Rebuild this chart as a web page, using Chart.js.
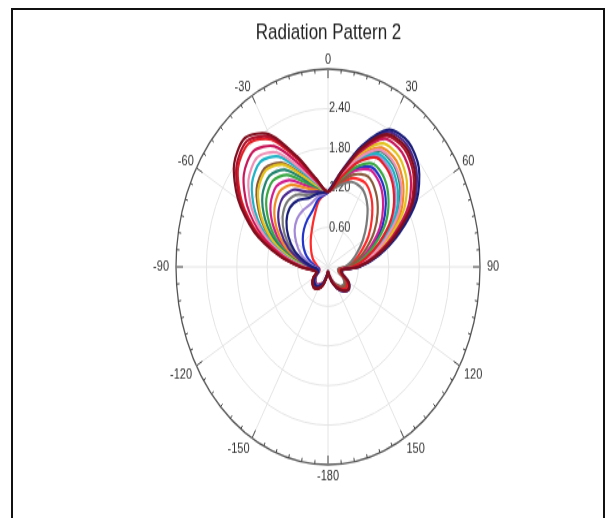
<!DOCTYPE html>
<html>
<head>
<meta charset="utf-8">
<title>Radiation Pattern 2</title>
<script src="https://cdn.jsdelivr.net/npm/chart.js@4.4.0/dist/chart.umd.min.js"></script>
<style>
  html, body { margin: 0; padding: 0; background: #fff; }
  body { width: 616px; height: 518px; position: relative; overflow: hidden; }
  #frame { position: absolute; left: 11px; top: 8px; width: 594px; height: 530px; border: 2px solid #111; border-bottom: none; box-sizing: border-box; }
  #polar { position: absolute; left: 0; top: 0; }
</style>
</head>
<body>
<div id="frame"></div>
<canvas id="polar" width="616" height="398" style="width:616px;height:518px"></canvas>
<script>
// angles (deg, clockwise from top) of each sample
const angleDeg = [0, 10, 20, 30, 40, 50, 60, 70, 80, 90, 100, 110, 120, 130, 140, 150, 160, 170,
                  180, 190, 200, 210, 220, 230, 240, 250, 260, 270, 280, 290, 300, 310, 320, 330, 340, 350];
const angleTicks = [0, 30, 60, 90, 120, 150, 180, 210, 240, 270, 300, 330];
const angleTickText = ['0', '30', '60', '90', '120', '150', '-180', '-150', '-120', '-90', '-60', '-30'];
const radialMax = 3;
const radialStep = 0.6;
const ringTickStep = 5;

// one pattern per run
const curveMaroon = [1.14, 1.44, 1.91, 2.32, 2.38, 2.24, 1.93, 1.43, 0.98, 0.60, 0.27, 0.29, 0.47, 0.53, 0.47, 0.37, 0.26, 0.14,
                     0.08, 0.16, 0.30, 0.38, 0.42, 0.40, 0.34, 0.24, 0.30, 0.55, 0.98, 1.55, 2.05, 2.42, 2.55, 2.32, 1.78, 1.36];
const curveDarkRed = [1.14, 1.44, 1.89, 2.29, 2.34, 2.20, 1.89, 1.41, 0.96, 0.59, 0.27, 0.29, 0.47, 0.53, 0.47, 0.37, 0.26, 0.14,
                      0.08, 0.16, 0.30, 0.38, 0.42, 0.40, 0.34, 0.24, 0.30, 0.54, 0.96, 1.51, 2.00, 2.36, 2.49, 2.27, 1.75, 1.35];
const curveNavy = [1.15, 1.46, 1.95, 2.40, 2.47, 2.34, 2.02, 1.50, 1.02, 0.62, 0.28, 0.30, 0.48, 0.54, 0.48, 0.38, 0.26, 0.14,
                   0.08, 0.14, 0.26, 0.33, 0.37, 0.35, 0.29, 0.20, 0.21, 0.31, 0.47, 0.70, 0.90, 1.07, 1.17, 1.17, 1.11, 1.13];
const curvePurple = [1.13, 1.45, 1.93, 2.36, 2.42, 2.28, 1.97, 1.46, 1.00, 0.61, 0.28, 0.30, 0.47, 0.53, 0.48, 0.38, 0.26, 0.14,
                     0.08, 0.14, 0.27, 0.34, 0.38, 0.36, 0.30, 0.21, 0.22, 0.35, 0.55, 0.83, 1.08, 1.28, 1.38, 1.35, 1.21, 1.16];
const curveRed = [1.14, 1.36, 1.68, 1.91, 1.87, 1.70, 1.44, 1.08, 0.76, 0.49, 0.24, 0.26, 0.42, 0.48, 0.44, 0.34, 0.24, 0.13,
                  0.08, 0.16, 0.30, 0.38, 0.42, 0.40, 0.34, 0.24, 0.29, 0.53, 0.94, 1.48, 1.96, 2.32, 2.44, 2.23, 1.73, 1.34];
const curveCrimson = [1.14, 1.43, 1.86, 2.24, 2.27, 2.13, 1.83, 1.36, 0.93, 0.58, 0.27, 0.29, 0.46, 0.52, 0.47, 0.37, 0.25, 0.14,
                      0.08, 0.16, 0.29, 0.37, 0.41, 0.39, 0.33, 0.23, 0.28, 0.51, 0.89, 1.39, 1.84, 2.17, 2.29, 2.11, 1.66, 1.32];
const curvePink = [1.14, 1.39, 1.75, 2.05, 2.04, 1.89, 1.60, 1.20, 0.83, 0.52, 0.25, 0.27, 0.44, 0.50, 0.45, 0.35, 0.25, 0.13,
                   0.08, 0.16, 0.29, 0.37, 0.41, 0.39, 0.33, 0.23, 0.28, 0.48, 0.84, 1.31, 1.73, 2.05, 2.17, 2.00, 1.59, 1.30];
const curveCyan = [1.14, 1.38, 1.72, 1.98, 1.96, 1.80, 1.53, 1.14, 0.80, 0.51, 0.25, 0.27, 0.43, 0.49, 0.44, 0.35, 0.24, 0.13,
                   0.08, 0.15, 0.29, 0.36, 0.40, 0.38, 0.32, 0.23, 0.27, 0.47, 0.81, 1.26, 1.66, 1.96, 2.08, 1.93, 1.55, 1.28];
const curveYellow = [1.14, 1.41, 1.82, 2.16, 2.18, 2.03, 1.73, 1.29, 0.89, 0.55, 0.26, 0.28, 0.45, 0.51, 0.46, 0.36, 0.25, 0.14,
                     0.08, 0.15, 0.28, 0.36, 0.40, 0.38, 0.32, 0.22, 0.26, 0.44, 0.75, 1.16, 1.52, 1.80, 1.91, 1.79, 1.47, 1.25];
const curveBrown = [1.14, 1.30, 1.49, 1.58, 1.47, 1.28, 1.05, 0.80, 0.59, 0.40, 0.22, 0.24, 0.38, 0.44, 0.40, 0.32, 0.23, 0.12,
                    0.07, 0.15, 0.28, 0.36, 0.40, 0.38, 0.32, 0.22, 0.26, 0.45, 0.76, 1.18, 1.55, 1.84, 1.95, 1.82, 1.49, 1.26];
const curveTeal = [1.14, 1.39, 1.74, 2.03, 2.02, 1.86, 1.58, 1.18, 0.82, 0.52, 0.25, 0.27, 0.43, 0.49, 0.45, 0.35, 0.25, 0.13,
                   0.08, 0.15, 0.28, 0.35, 0.39, 0.37, 0.31, 0.22, 0.25, 0.42, 0.71, 1.09, 1.43, 1.69, 1.80, 1.70, 1.42, 1.23];
const curveOrange = [1.13, 1.40, 1.78, 2.09, 2.10, 1.94, 1.66, 1.24, 0.86, 0.54, 0.26, 0.28, 0.44, 0.50, 0.45, 0.36, 0.25, 0.13,
                     0.08, 0.15, 0.27, 0.34, 0.38, 0.36, 0.30, 0.21, 0.23, 0.37, 0.59, 0.90, 1.17, 1.38, 1.49, 1.44, 1.27, 1.18];
const curveGreen = [1.14, 1.34, 1.61, 1.80, 1.74, 1.56, 1.31, 0.98, 0.70, 0.46, 0.24, 0.26, 0.40, 0.46, 0.42, 0.34, 0.24, 0.13,
                    0.08, 0.15, 0.28, 0.35, 0.39, 0.37, 0.31, 0.22, 0.24, 0.40, 0.67, 1.03, 1.34, 1.59, 1.70, 1.61, 1.37, 1.22];
const curveMagenta = [1.14, 1.32, 1.55, 1.69, 1.61, 1.42, 1.18, 0.89, 0.64, 0.43, 0.23, 0.25, 0.39, 0.45, 0.41, 0.33, 0.23, 0.12,
                      0.07, 0.15, 0.27, 0.34, 0.38, 0.36, 0.30, 0.21, 0.24, 0.38, 0.63, 0.96, 1.25, 1.48, 1.59, 1.52, 1.32, 1.20];
const curveLavender = [1.14, 1.37, 1.69, 1.94, 1.91, 1.74, 1.47, 1.11, 0.78, 0.49, 0.25, 0.27, 0.42, 0.48, 0.44, 0.35, 0.24, 0.13,
                       0.08, 0.14, 0.26, 0.32, 0.36, 0.34, 0.28, 0.20, 0.20, 0.27, 0.40, 0.57, 0.72, 0.86, 0.95, 0.99, 1.01, 1.09];
const curveGray = [1.14, 1.25, 1.37, 1.36, 1.21, 0.99, 0.79, 0.61, 0.47, 0.34, 0.20, 0.22, 0.35, 0.41, 0.38, 0.30, 0.22, 0.12,
                   0.07, 0.14, 0.26, 0.33, 0.37, 0.35, 0.29, 0.20, 0.22, 0.33, 0.51, 0.76, 0.99, 1.17, 1.27, 1.26, 1.16, 1.14];
const curveBlue = [1.13, 1.33, 1.58, 1.74, 1.67, 1.49, 1.24, 0.94, 0.67, 0.44, 0.23, 0.25, 0.40, 0.46, 0.42, 0.33, 0.24, 0.13,
                   0.07, 0.13, 0.25, 0.31, 0.35, 0.33, 0.27, 0.19, 0.18, 0.24, 0.32, 0.44, 0.55, 0.65, 0.74, 0.82, 0.90, 1.05];
const curveBrightRed = [1.14, 1.27, 1.43, 1.47, 1.34, 1.13, 0.92, 0.70, 0.53, 0.37, 0.21, 0.23, 0.36, 0.42, 0.39, 0.31, 0.22, 0.12,
                        0.07, 0.13, 0.24, 0.30, 0.34, 0.32, 0.26, 0.18, 0.17, 0.20, 0.24, 0.31, 0.37, 0.44, 0.53, 0.64, 0.80, 1.02];

// first one ends up on top
const curves = [curveMaroon, curveDarkRed, curveNavy, curvePurple, curveRed, curveCrimson, curvePink, curveCyan, curveYellow,
                curveBrown, curveTeal, curveOrange, curveGreen, curveMagenta, curveLavender, curveGray, curveBlue, curveBrightRed];
const curveColors = ['#7f0f1e', '#b0122c', '#1b1f7a', '#4b2a8f', '#e51e25', '#c8175a', '#ef8fb5', '#1fb3c6', '#e3c21b',
                     '#8a5a3c', '#23856f', '#f08a24', '#3aa843', '#d11f8f', '#a48ad6', '#7a7a7a', '#2234c9', '#ff2b2b'];

Chart.defaults.font.family = "'Liberation Sans', Arial, sans-serif";

// angle labels, ring ticks and radius labels drawn off the radial scale
const polarDecor = {
    id: 'polarDecor',
    beforeDatasetsDraw(chart) {
        const r = chart.scales.r;
        const ctx = chart.ctx;
        const R = r.drawingArea;
        const step = 360 / angleDeg.length;

        ctx.save();
        ctx.strokeStyle = '#444';
        ctx.lineWidth = 1;
        for (let d = 0; d < 360; d += ringTickStep) {
            const len = d % 30 === 0 ? 7 : 3;
            const p1 = r.getPointPosition(d / step, R);
            const p2 = r.getPointPosition(d / step, R - len);
            ctx.beginPath();
            ctx.moveTo(p1.x, p1.y);
            ctx.lineTo(p2.x, p2.y);
            ctx.stroke();
        }

        ctx.font = "11px 'Liberation Sans', Arial, sans-serif";
        ctx.fillStyle = '#333';
        ctx.textAlign = 'center';
        ctx.textBaseline = 'middle';
        angleTicks.forEach((d, i) => {
            const text = angleTickText[i];
            const a = r.getIndexAngle(d / step);
            const sn = Math.sin(a);
            const cs = Math.cos(a);
            const w = ctx.measureText(text).width;
            const pad = Math.abs(sn) > 0.99 ? 7 : (cs < 0 ? 5 : 3);
            const p = r.getPointPosition(d / step, R + pad);
            const dx = Math.abs(sn) < 0.01 ? 0 : Math.sign(sn) * w / 2;
            const dy = Math.abs(cs) < 0.01 ? 0 : -Math.sign(cs) * 4;
            ctx.fillText(text, p.x + dx, p.y + dy);
        });

        ctx.textAlign = 'left';
        r.ticks.forEach(t => {
            if (t.value <= 0 || t.value >= radialMax - 0.001) return;
            const y = r.yCenter - r.getDistanceFromCenterForValue(t.value);
            ctx.fillText(t.value.toFixed(2), r.xCenter + 1, y);
        });
        ctx.restore();
    }
};

const ctx = document.getElementById('polar').getContext('2d');

new Chart(ctx, {
    type: 'radar',
    data: {
        labels: angleDeg,
        datasets: curves.map((values, i) => ({
            label: 'Run ' + (i + 1),
            data: values,
            borderColor: curveColors[i],
            backgroundColor: 'transparent',
            fill: false
        }))
    },
    options: {
        responsive: false,
        animation: false,
        layout: {
            padding: { top: 5, left: 176, right: 135, bottom: 34 }
        },
        elements: {
            point: { radius: 0, hoverRadius: 0 },
            line: { tension: 0.28, borderWidth: 2.2 }
        },
        plugins: {
            legend: { display: false },
            tooltip: { enabled: false },
            title: {
                display: true,
                text: 'Radiation Pattern 2',
                color: '#222',
                font: { size: 17, weight: 'normal' },
                padding: { top: 10, bottom: 11 }
            }
        },
        scales: {
            r: {
                min: 0,
                max: radialMax,
                startAngle: 0,
                ticks: { display: false, stepSize: radialStep },
                pointLabels: { display: false },
                grid: {
                    circular: true,
                    color: c => c.tick && c.tick.value >= radialMax - 0.001 ? '#555' : '#e4e4e4',
                    lineWidth: c => c.tick && c.tick.value >= radialMax - 0.001 ? 1.3 : 1
                },
                angleLines: {
                    color: '#e4e4e4',
                    lineWidth: c => c.index % 3 === 0 ? 1 : 0
                }
            }
        }
    },
    plugins: [polarDecor]
});
</script>
</body>
</html>
